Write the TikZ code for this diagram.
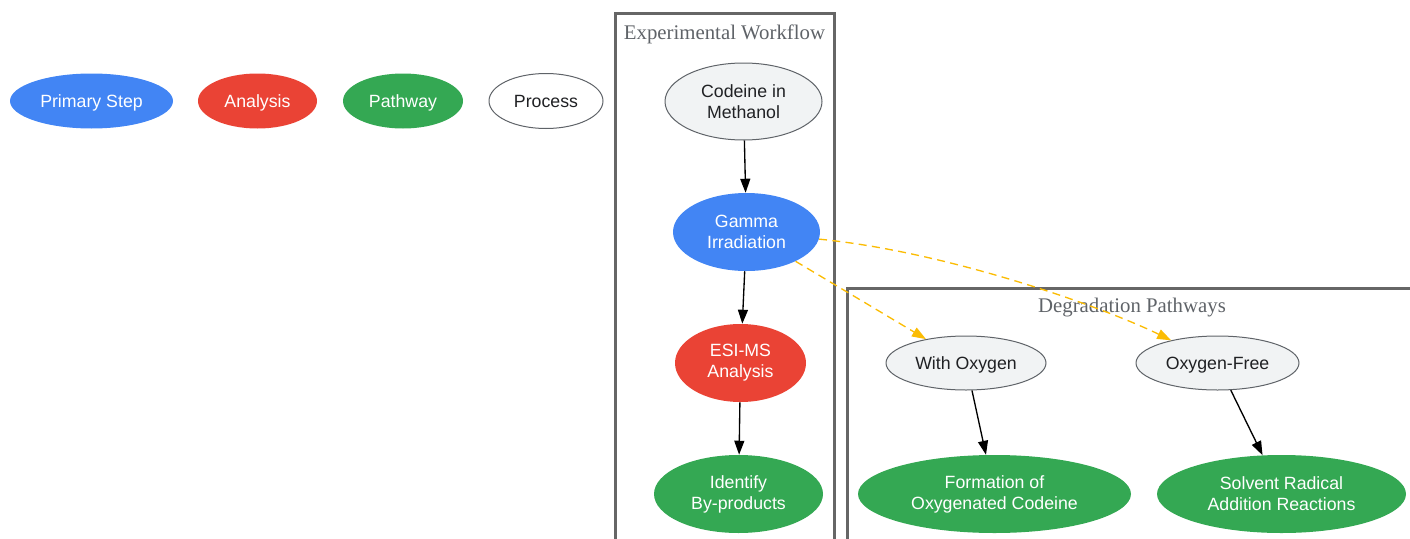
\documentclass[tikz,border=0pt]{standalone}
\usepackage{fontspec}
\setmainfont{Liberation Sans}
\newfontfamily\clusterfont{Liberation Serif}
\usetikzlibrary{shapes.geometric,arrows.meta}
\definecolor{gblue}{HTML}{4285F4}
\definecolor{gred}{HTML}{EA4335}
\definecolor{ggreen}{HTML}{34A853}
\definecolor{gyellow}{HTML}{FBBC04}
\definecolor{glight}{HTML}{F1F3F4}
\definecolor{gborder}{HTML}{5F6368}
\definecolor{gdark}{HTML}{202124}
\definecolor{gframe}{HTML}{666666}

\begin{document}
\begin{tikzpicture}[x=0.75pt, y=-0.75pt,
  every node/.style={font=\fontsize{13.3}{15.75}\selectfont, align=center},
  oval/.style={ellipse, inner sep=0pt},
  oneline/.style={text depth=0pt},
  primary/.style={oval, fill=gblue, text=white},
  analysis/.style={oval, fill=gred, text=white},
  pathway/.style={oval, fill=ggreen, text=white},
  process/.style={oval, draw=gborder, line width=0.75pt, fill=glight, text=gdark},
  flow/.style={line width=1pt, -{Triangle[length=10.5pt, width=7.5pt]}},
  branch/.style={line width=1pt, gyellow, dash pattern=on 6pt off 4pt, -{Triangle[length=10.5pt, width=7.5pt]}},
  cluster/.style={draw=gframe, line width=2.25pt},
  clusterlabel/.style={font=\clusterfont\fontsize{15.6}{18}\selectfont, text=gborder}]
  \useasboundingbox (0,0) rectangle (1410,539);
  \clip (0,0) rectangle (1410,539);

  % Legend
  \node[primary, oneline, minimum width=122.25pt, minimum height=41.25pt] (keyprimary) at (91.5,101) {Primary Step};
  \node[analysis, oneline, minimum width=89.25pt, minimum height=41.25pt] (keyanalysis) at (257.5,101) {Analysis};
  \node[pathway, oneline, minimum width=90pt, minimum height=41.25pt] (keypathway) at (403,101) {Pathway};
  \node[process, oneline, fill=white, minimum width=85.5pt, minimum height=41.25pt] (keyprocess) at (546,101) {Process};

  % Clusters
  \draw[cluster] (615,13) rectangle (834,560);
  \node[clusterlabel] (workflowlabel) at (724.5,34) {Experimental Workflow};
  \draw[cluster] (847,288) rectangle (1430,560);
  \node[clusterlabel] (pathwayslabel) at (1132,308) {Degradation Pathways};

  % Experimental workflow
  \node[process, minimum width=117.75pt, minimum height=57.75pt] (codeine) at (743.5,101.5) {Codeine in\\Methanol};
  \node[primary, minimum width=110.25pt, minimum height=58.5pt] (gamma) at (746.5,232) {Gamma\\Irradiation};
  \node[analysis, minimum width=98.25pt, minimum height=58.5pt] (esims) at (740.5,363) {ESI-MS\\Analysis};
  \node[pathway, minimum width=126.75pt, minimum height=58.5pt] (identify) at (738.5,494) {Identify\\By-products};

  % Degradation pathways
  \node[process, oneline, minimum width=120pt, minimum height=40.5pt] (withox) at (966,363) {With Oxygen};
  \node[process, oneline, minimum width=122.25pt, minimum height=40.5pt] (oxfree) at (1217.5,363) {Oxygen-Free};
  \node[pathway, minimum width=204.75pt, minimum height=58.5pt] (oxygenated) at (994.5,494) {Formation of\\Oxygenated Codeine};
  \node[pathway, minimum width=186.75pt, minimum height=58.5pt] (solvent) at (1281.5,494) {Solvent Radical\\Addition Reactions};

  % Connections
  \draw[flow] (codeine) -- (gamma);
  \draw[flow] (gamma) -- (esims);
  \draw[flow] (esims) -- (identify);
  \draw[flow] (withox) -- (oxygenated);
  \draw[flow] (oxfree) -- (solvent);
  \draw[branch] (gamma) -- (withox);
  \draw[branch] (gamma) .. controls (950,252) and (1105,308) .. (oxfree);
\end{tikzpicture}
\end{document}
